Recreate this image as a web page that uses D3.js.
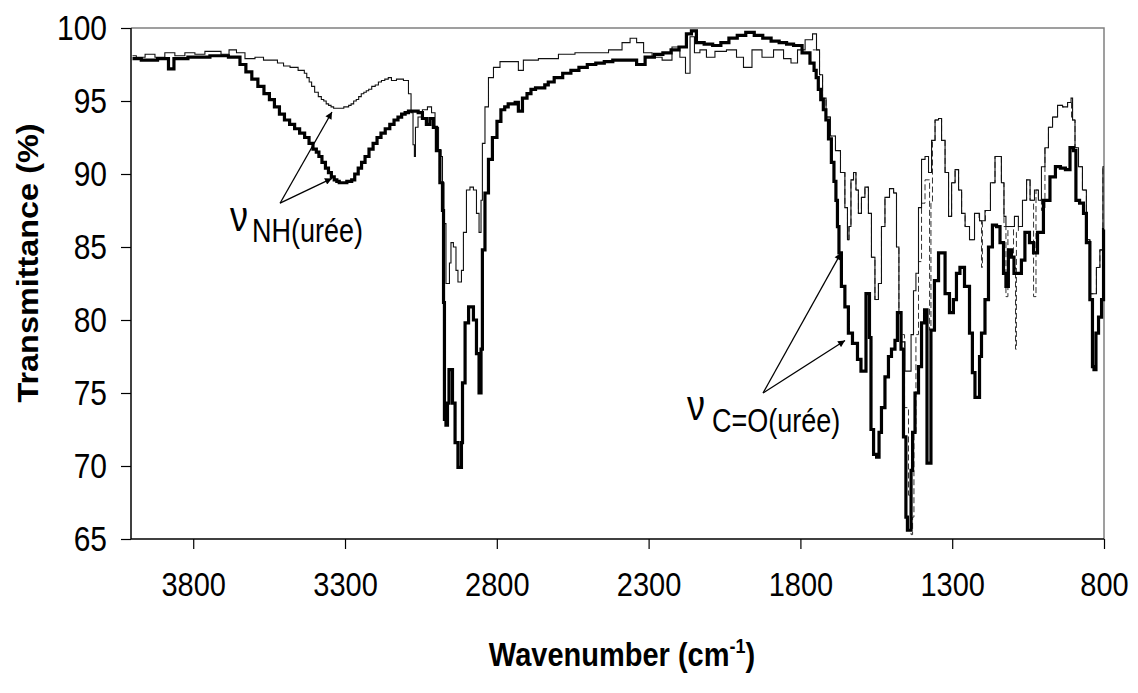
<!DOCTYPE html>
<html><head><meta charset="utf-8">
<script src="https://cdn.jsdelivr.net/npm/d3@7"></script>
<style>
html,body{margin:0;padding:0;background:#fff;}
svg{display:block;font-family:"Liberation Sans",Arial,sans-serif;}
</style></head>
<body><svg id="c" width="1138" height="693"></svg>
<script>
// ---- data ----
const xTicks = [3800, 3300, 2800, 2300, 1800, 1300, 800];
const yTicks = [65, 70, 75, 80, 85, 90, 95, 100];
const xTitle = "Wavenumber (cm";
const yTitle = "Transmittance (%)";

// thick solid spectrum [wavenumber, transmittance]
const spectrumThick = [[4000,97.9],[3942,97.8],[3893,97.9],[3870,97.2],[3857,97.9],[3778,98.0],[3712,98.1],[3656,98.0],[3636,97.5],[3617,97.0],[3597,96.5],[3577,96.0],[3557,95.5],[3541,95.1],[3524,94.6],[3508,94.1],[3491,93.7],[3474,93.4],[3458,93.1],[3441,92.8],[3425,92.5],[3412,92.1],[3399,91.7],[3390,91.5],[3382,91.2],[3370,90.8],[3359,90.4],[3350,90.1],[3340,89.8],[3331,89.6],[3323,89.5],[3315,89.4],[3307,89.4],[3298,89.4],[3290,89.5],[3282,89.5],[3274,89.6],[3262,90.0],[3251,90.4],[3240,90.8],[3228,91.2],[3214,91.7],[3201,92.1],[3188,92.5],[3175,92.8],[3160,93.1],[3145,93.4],[3132,93.7],[3119,93.9],[3108,94.1],[3096,94.2],[3086,94.3],[3076,94.3],[3065,94.3],[3053,94.2],[3037,93.8],[3027,93.4],[3014,93.8],[3004,93.2],[2994,91.6],[2981,89.4],[2977,87.5],[2974,81.2],[2971,73.2],[2964,72.8],[2961,74.3],[2954,76.6],[2948,76.6],[2944,74.3],[2931,71.6],[2925,69.9],[2918,69.9],[2915,71.6],[2911,75.7],[2898,79.8],[2888,80.9],[2882,80.9],[2872,80.0],[2862,77.7],[2855,75.0],[2849,78.0],[2846,84.8],[2832,88.7],[2823,91.0],[2806,92.5],[2793,93.6],[2780,94.4],[2768,94.6],[2757,94.8],[2745,94.8],[2734,94.9],[2724,94.3],[2707,95.2],[2694,95.5],[2681,95.8],[2664,95.9],[2648,95.9],[2636,96.1],[2625,96.3],[2597,96.6],[2569,96.9],[2543,97.1],[2516,97.3],[2488,97.5],[2460,97.6],[2432,97.7],[2404,97.8],[2378,97.8],[2351,97.8],[2328,97.5],[2295,98.0],[2267,98.2],[2239,98.3],[2213,98.5],[2187,98.7],[2164,99.6],[2154,99.8],[2131,99.0],[2103,98.9],[2075,98.8],[2049,99.0],[2022,99.3],[1994,99.5],[1966,99.7],[1938,99.5],[1910,99.3],[1883,99.1],[1857,99.0],[1834,98.9],[1811,98.8],[1778,98.3],[1759,97.6],[1751,97.1],[1745,96.6],[1737,95.8],[1729,95.1],[1720,94.4],[1712,93.7],[1703,92.4],[1693,90.8],[1686,89.5],[1680,88.2],[1676,86.4],[1670,84.6],[1660,82.3],[1647,80.9],[1637,79.1],[1620,78.4],[1604,77.3],[1597,76.5],[1587,76.5],[1581,81.8],[1574,81.8],[1571,78.8],[1564,72.5],[1554,70.8],[1544,70.6],[1538,72.3],[1528,74.0],[1515,76.1],[1505,77.5],[1495,78.0],[1482,78.6],[1479,80.5],[1472,80.5],[1465,78.0],[1456,72.0],[1449,66.5],[1446,65.6],[1439,65.6],[1432,69.7],[1429,72.3],[1416,75.0],[1406,76.8],[1396,79.8],[1386,80.7],[1380,70.2],[1373,70.2],[1367,79.3],[1350,82.7],[1340,84.6],[1330,84.6],[1317,81.8],[1301,80.5],[1291,81.4],[1281,83.2],[1268,83.6],[1251,82.3],[1235,79.1],[1232,76.4],[1218,74.7],[1212,74.7],[1208,77.5],[1199,79.1],[1185,81.4],[1176,85.0],[1159,86.5],[1149,86.4],[1136,85.3],[1126,83.2],[1120,82.3],[1110,84.8],[1100,84.3],[1093,83.2],[1077,83.2],[1067,84.1],[1054,86.0],[1037,85.3],[1027,84.6],[1011,86.0],[988,88.2],[968,89.8],[952,90.5],[935,90.4],[919,90.3],[905,91.8],[896,91.6],[889,88.2],[872,88.0],[863,87.3],[853,85.3],[840,81.4],[836,76.8],[830,76.6],[823,79.1],[813,80.2],[803,81.4],[800,86.2]];

// thin solid spectrum
const spectrumThin = [[4000,98.1],[3975,98.0],[3942,98.2],[3910,98.0],[3877,98.3],[3844,98.1],[3811,98.3],[3778,98.2],[3745,98.4],[3722,98.4],[3695,98.2],[3669,98.5],[3646,98.3],[3613,97.9],[3580,98.0],[3557,97.8],[3531,97.8],[3514,97.6],[3491,97.4],[3471,97.3],[3438,97.1],[3430,96.9],[3422,96.6],[3414,96.3],[3406,96.0],[3394,95.6],[3382,95.3],[3374,95.1],[3366,95.0],[3358,94.8],[3350,94.7],[3342,94.6],[3333,94.5],[3325,94.5],[3317,94.5],[3308,94.5],[3300,94.6],[3292,94.6],[3284,94.7],[3276,94.8],[3267,95.0],[3259,95.1],[3251,95.3],[3242,95.5],[3234,95.6],[3226,95.7],[3218,95.8],[3206,96.0],[3195,96.1],[3185,96.3],[3175,96.4],[3163,96.5],[3152,96.6],[3142,96.4],[3119,96.5],[3096,96.4],[3086,95.5],[3079,94.2],[3073,92.0],[3070,91.2],[3066,93.2],[3053,93.9],[3037,94.4],[3020,94.6],[3010,94.2],[2997,93.2],[2987,91.6],[2981,91.2],[2977,89.4],[2971,86.6],[2964,82.5],[2958,82.5],[2954,83.9],[2948,85.3],[2938,85.0],[2931,83.4],[2925,82.6],[2918,82.6],[2915,83.4],[2905,86.0],[2895,88.9],[2882,89.1],[2872,88.9],[2862,87.3],[2855,86.0],[2849,88.2],[2846,92.1],[2832,94.6],[2823,96.6],[2799,97.3],[2780,97.7],[2734,97.7],[2724,97.1],[2701,97.8],[2625,97.9],[2569,98.2],[2516,98.3],[2460,98.3],[2404,98.5],[2371,99.0],[2351,99.3],[2328,99.0],[2305,98.3],[2272,98.0],[2239,97.8],[2207,98.7],[2187,98.0],[2170,96.9],[2157,99.4],[2141,98.3],[2121,98.5],[2098,98.0],[2065,98.4],[2022,98.5],[1999,98.0],[1976,97.3],[1943,98.5],[1910,98.0],[1867,98.5],[1844,97.9],[1818,97.6],[1801,98.5],[1768,99.2],[1752,99.6],[1742,98.5],[1732,96.8],[1722,95.2],[1709,93.9],[1693,92.6],[1676,91.6],[1660,90.1],[1647,87.7],[1643,85.5],[1637,86.4],[1630,89.6],[1620,90.1],[1614,88.9],[1604,87.3],[1594,88.4],[1581,89.1],[1571,87.3],[1561,84.3],[1548,81.4],[1538,82.5],[1528,86.4],[1515,88.4],[1498,89.0],[1488,88.7],[1479,85.0],[1472,80.5],[1462,78.5],[1449,76.5],[1439,76.5],[1432,79.0],[1423,82.0],[1416,83.2],[1406,87.7],[1396,91.0],[1383,91.2],[1373,90.1],[1363,92.3],[1350,93.7],[1340,93.8],[1330,92.3],[1317,90.1],[1307,87.1],[1297,89.4],[1284,90.3],[1274,88.9],[1264,87.3],[1251,86.4],[1235,85.5],[1218,87.3],[1202,86.8],[1182,87.5],[1166,89.4],[1152,91.2],[1143,91.2],[1133,89.4],[1126,87.1],[1120,86.4],[1103,86.4],[1087,87.1],[1077,86.4],[1060,88.2],[1050,89.6],[1037,88.2],[1021,88.9],[1011,88.2],[1001,90.5],[988,91.8],[978,93.2],[961,93.9],[945,94.7],[928,94.6],[912,94.9],[905,95.2],[902,93.7],[889,91.8],[879,90.5],[863,88.9],[853,85.5],[840,81.8],[830,81.8],[820,83.6],[807,84.8],[800,90.5]];

// dashed spectrum (fingerprint region)
const spectrumDashed = [[1759,98.5],[1742,98.5],[1732,96.8],[1722,95.2],[1709,93.9],[1693,92.6],[1676,91.6],[1660,90.1],[1647,87.7],[1643,85.5],[1637,86.4],[1630,89.6],[1620,90.1],[1614,88.9],[1604,87.3],[1594,88.4],[1581,89.1],[1571,87.3],[1561,84.3],[1548,81.4],[1538,82.5],[1528,86.4],[1515,88.4],[1498,89.0],[1488,88.7],[1479,85.0],[1472,80.5],[1465,79.0],[1449,74.0],[1439,68.0],[1432,65.3],[1429,66.5],[1423,72.3],[1416,79.0],[1406,84.0],[1396,88.0],[1383,89.6],[1376,89.6],[1373,79.3],[1367,88.0],[1363,92.3],[1350,93.7],[1340,93.8],[1330,92.3],[1317,90.1],[1307,87.1],[1297,89.4],[1284,90.3],[1274,88.9],[1264,87.3],[1251,86.4],[1235,85.5],[1218,87.3],[1205,86.8],[1202,83.6],[1199,86.8],[1182,87.5],[1166,89.4],[1152,91.2],[1143,91.2],[1133,89.4],[1126,86.4],[1120,81.6],[1113,86.4],[1103,86.4],[1093,83.6],[1090,78.0],[1087,86.0],[1077,86.4],[1060,88.2],[1050,89.6],[1037,88.2],[1027,81.6],[1021,88.9],[1011,88.2],[1001,87.5],[988,91.8],[978,93.2],[961,93.9],[945,94.7],[928,94.6],[912,94.9],[902,93.7],[889,91.8],[879,90.5],[863,88.9],[853,85.5],[840,81.8],[830,81.8],[820,83.6],[807,84.8],[800,90.5]];

// annotations: arrow tail and tips as [wavenumber, transmittance]
const annotNH = {sub: "NH(urée)", tail: [3514, 88.0], tips: [[3343, 94.25], [3343, 89.7]]};
const annotCO = {sub: "C=O(urée)", tail: [1923, 75.0], tips: [[1666, 84.6], [1653, 78.6]]};

// ---- chart ----
const svg = d3.select("#c");
const L = 131, R = 1104, T = 28, B = 539;
const x = d3.scaleLinear().domain([4000, 800]).range([132.5, 1104]);
const y = d3.scaleLinear().domain([65, 100]).range([B, T]);

// frame (top/right in grey)
svg.append("path").attr("d", `M${L},${T}H${R}V${B}`).attr("fill", "none").attr("stroke", "#808080").attr("stroke-width", 1.5);

const line = d3.line().x(d => x(d[0])).y(d => y(d[1])).curve(d3.curveStep);
const g = svg.append("g");
g.append("path").datum(spectrumDashed).attr("d", line).attr("fill", "none").attr("stroke", "#333").attr("stroke-width", 1).attr("stroke-dasharray", "6,3");
g.append("path").datum(spectrumThin).attr("d", line).attr("fill", "none").attr("stroke", "#111").attr("stroke-width", 1.1);
g.append("path").datum(spectrumThick).attr("d", line).attr("fill", "none").attr("stroke", "#000").attr("stroke-width", 3.2);

// axes
const xa = svg.append("g").attr("transform", `translate(0,${B})`)
  .call(d3.axisBottom(x).tickValues(xTicks).tickSize(10).tickSizeOuter(0).tickPadding(19).tickFormat(d3.format("d")));
xa.select(".domain").attr("d", `M${L},0H${R}`).attr("stroke", "#000").attr("stroke-width", 1.5);
xa.selectAll(".tick line").attr("stroke", "#000").attr("stroke-width", 1.2);
xa.selectAll(".tick text").attr("font-size", 29).attr("font-family", "Liberation Sans, Arial, sans-serif")
  .attr("fill", "#000").attr("transform", "scale(1,1.15)");

const ya = svg.append("g").attr("transform", `translate(${L},0)`)
  .call(d3.axisLeft(y).tickValues(yTicks).tickSize(10).tickSizeOuter(0).tickPadding(14));
ya.select(".domain").attr("d", `M0,${T}V${B}`).attr("stroke", "#000").attr("stroke-width", 1.5);
ya.selectAll(".tick line").attr("stroke", "#000").attr("stroke-width", 1.2);
ya.selectAll(".tick text").attr("font-size", 30).attr("font-family", "Liberation Sans, Arial, sans-serif")
  .attr("fill", "#000").attr("transform", "scale(1,1.15)");

// axis titles
const xt = svg.append("text").attr("transform", "translate(622,666) scale(1,1.15)").attr("text-anchor", "middle")
  .attr("font-size", 29).attr("font-weight", "bold").text(xTitle);
xt.append("tspan").attr("font-size", 18).attr("dy", -11).text("-1");
xt.append("tspan").attr("dy", 11).text(")");

svg.append("text").attr("transform", "translate(28,263) rotate(-90) scale(1.08,1)").attr("text-anchor", "middle")
  .attr("dominant-baseline", "central").attr("font-size", 30).attr("font-weight", "bold").text(yTitle);

// arrows
const defs = svg.append("defs");
defs.append("marker").attr("id", "ah").attr("viewBox", "0 0 10 10").attr("refX", 10).attr("refY", 5)
  .attr("markerWidth", 9).attr("markerHeight", 7).attr("markerUnits", "userSpaceOnUse").attr("orient", "auto")
  .append("path").attr("d", "M0,0L10,5L0,10Z").attr("fill", "#000");

function annotate(a, nuX, nuY, subX, subY) {
  a.tips.forEach(t => {
    svg.append("line").attr("x1", x(a.tail[0])).attr("y1", y(a.tail[1]))
      .attr("x2", x(t[0])).attr("y2", y(t[1])).attr("stroke", "#000").attr("stroke-width", 1.3)
      .attr("marker-end", "url(#ah)");
  });
  svg.append("text").attr("transform", `translate(${nuX},${nuY}) scale(1,1.2)`).attr("font-size", 36).text("ν");
  svg.append("text").attr("transform", `translate(${subX},${subY}) scale(1,1.2)`).attr("font-size", 27).text(a.sub);
}
annotate(annotNH, 230, 231, 252, 242);
annotate(annotCO, 687, 420, 712, 432);
</script></body></html>
